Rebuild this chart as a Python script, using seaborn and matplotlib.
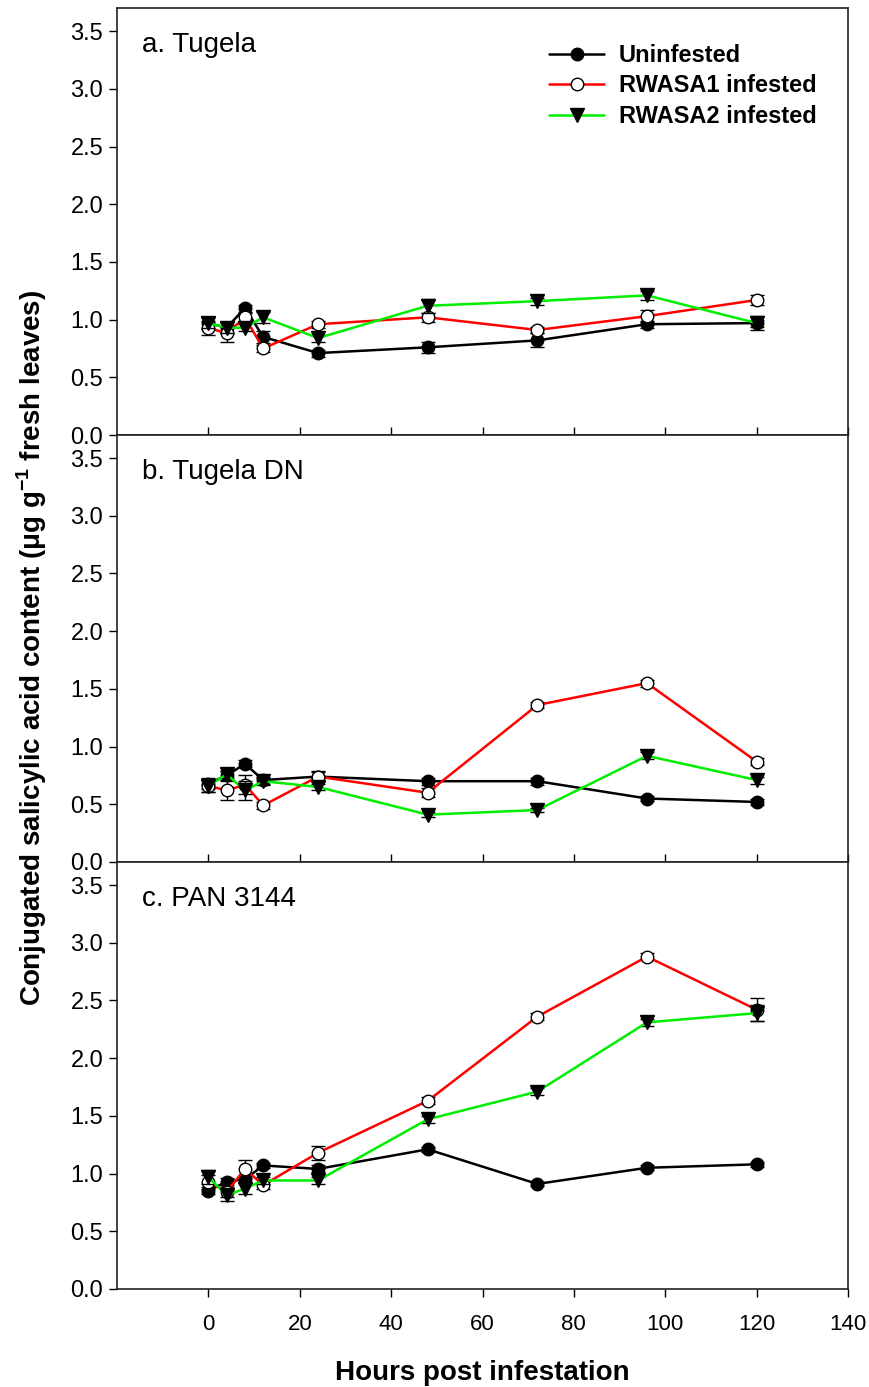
import numpy as np
import pandas as pd
import matplotlib
matplotlib.use("Agg")
import matplotlib.pyplot as plt
import seaborn as sns

# Hours post infestation
hours = [0, 4, 8, 12, 24, 48, 72, 96, 120]
series_names = ["Uninfested", "RWASA1 infested", "RWASA2 infested"]
panel_titles = ["a. Tugela", "b. Tugela DN", "c. PAN 3144"]

# a. Tugela
a_unin = [0.97, 0.93, 1.10, 0.85, 0.71, 0.76, 0.82, 0.96, 0.97]
a_rw1 = [0.93, 0.88, 1.02, 0.75, 0.96, 1.02, 0.91, 1.03, 1.17]
a_rw2 = [0.97, 0.93, 0.93, 1.02, 0.84, 1.12, 1.16, 1.21, 0.97]
a_unin_se = [0.05, 0.05, 0.03, 0.05, 0.03, 0.05, 0.06, 0.03, 0.06]
a_rw1_se = [0.06, 0.07, 0.04, 0.03, 0.03, 0.04, 0.03, 0.05, 0.04]
a_rw2_se = [0.04, 0.05, 0.03, 0.05, 0.03, 0.06, 0.03, 0.04, 0.03]

# b. Tugela DN
b_unin = [0.68, 0.75, 0.85, 0.71, 0.74, 0.70, 0.70, 0.55, 0.52]
b_rw1 = [0.66, 0.62, 0.67, 0.49, 0.74, 0.60, 1.36, 1.55, 0.87]
b_rw2 = [0.66, 0.76, 0.62, 0.70, 0.65, 0.41, 0.45, 0.92, 0.71]
b_unin_se = [0.05, 0.04, 0.03, 0.03, 0.05, 0.03, 0.03, 0.02, 0.03]
b_rw1_se = [0.05, 0.08, 0.08, 0.03, 0.04, 0.04, 0.03, 0.03, 0.03]
b_rw2_se = [0.05, 0.03, 0.08, 0.03, 0.03, 0.02, 0.02, 0.03, 0.03]

# c. PAN 3144
c_unin = [0.85, 0.93, 0.95, 1.07, 1.04, 1.21, 0.91, 1.05, 1.08]
c_rw1 = [0.93, 0.84, 1.04, 0.90, 1.18, 1.63, 2.36, 2.88, 2.42]
c_rw2 = [0.97, 0.81, 0.87, 0.94, 0.94, 1.47, 1.71, 2.31, 2.39]
c_unin_se = [0.03, 0.03, 0.03, 0.02, 0.03, 0.02, 0.02, 0.02, 0.02]
c_rw1_se = [0.06, 0.04, 0.08, 0.03, 0.06, 0.03, 0.03, 0.03, 0.10]
c_rw2_se = [0.06, 0.05, 0.05, 0.03, 0.03, 0.03, 0.03, 0.03, 0.07]

panels = [
    (a_unin, a_rw1, a_rw2, a_unin_se, a_rw1_se, a_rw2_se),
    (b_unin, b_rw1, b_rw2, b_unin_se, b_rw1_se, b_rw2_se),
    (c_unin, c_rw1, c_rw2, c_unin_se, c_rw1_se, c_rw2_se),
]

sns.set_style("white")
plt.rcParams["font.family"] = ["Liberation Sans", "DejaVu Sans"]
plt.rcParams["mathtext.fontset"] = "custom"
plt.rcParams["mathtext.rm"] = "Liberation Sans"
plt.rcParams["mathtext.bf"] = "Liberation Sans:bold"
plt.rcParams["text.color"] = "black"
plt.rcParams["xtick.color"] = "black"
plt.rcParams["ytick.color"] = "black"
plt.rcParams["axes.labelcolor"] = "black"

colors = {"Uninfested": "black", "RWASA1 infested": "#ff0000", "RWASA2 infested": "#00ee00"}
markers = {"Uninfested": "o", "RWASA1 infested": "o", "RWASA2 infested": "v"}
mfc = {"Uninfested": "black", "RWASA1 infested": "white", "RWASA2 infested": "black"}

fig, axes = plt.subplots(3, 1, figsize=(8.7, 13.87), dpi=100, sharex=True)
fig.subplots_adjust(left=0.1345, right=0.9747, top=0.9942, bottom=0.0707, hspace=0)

for i, ax in enumerate(axes):
    vals = panels[i][:3]
    ses = panels[i][3:]
    df = pd.DataFrame({
        "hours": hours * 3,
        "value": vals[0] + vals[1] + vals[2],
        "group": [series_names[0]] * 9 + [series_names[1]] * 9 + [series_names[2]] * 9,
    })
    for j, name in enumerate(series_names):
        sub = df[df["group"] == name]
        ax.errorbar(sub["hours"], sub["value"], yerr=ses[j], fmt="none",
                    ecolor="black", elinewidth=1.0, capsize=5, capthick=1.0, zorder=2 + j)
        sns.lineplot(data=sub, x="hours", y="value", ax=ax, color=colors[name],
                     marker=markers[name], markersize=9 if name != "RWASA2 infested" else 10,
                     markerfacecolor=mfc[name], markeredgecolor="black", markeredgewidth=1.0,
                     linewidth=1.8, label=name, zorder=3 + j)
    ax.set_xlim(-20, 140)
    ax.set_ylim(0, 3.7)
    ax.set_yticks(np.arange(0, 3.51, 0.5))
    ax.set_yticklabels([f"{v:.1f}" for v in np.arange(0, 3.51, 0.5)], fontsize=17)
    ax.set_xlabel("")
    ax.set_ylabel("")
    for s in ax.spines.values():
        s.set_color("#222222")
        s.set_linewidth(1.2)
    ax.text(0.034, 0.913, panel_titles[i], transform=ax.transAxes, fontsize=20,
            ha="left", va="center")
    ax.tick_params(axis="y", direction="out", length=6, width=1.0, left=True, pad=4)
    if i < 2:
        ax.set_xticks([0, 20, 40, 60, 80, 100, 120])
        ax.tick_params(axis="x", direction="in", length=6, width=1.0, bottom=True, labelbottom=False)
    else:
        ax.set_xticks([0, 20, 40, 60, 80, 100, 120, 140])
        ax.set_xticklabels([str(v) for v in [0, 20, 40, 60, 80, 100, 120, 140]], fontsize=16)
        ax.tick_params(axis="x", direction="out", length=6, width=1.0, bottom=True, pad=12)
    if i == 0:
        leg = ax.legend(loc="upper right", bbox_to_anchor=(0.98, 0.955), frameon=False,
                        prop={"weight": "bold", "size": 17}, handlelength=2.3,
                        labelspacing=0.32, borderaxespad=0.3, handletextpad=0.65)
    else:
        ax.get_legend().remove()

axes[2].set_xlabel("Hours post infestation", fontsize=20, fontweight="bold", labelpad=18)
fig.text(0.036, 0.533, r"Conjugated salicylic acid content ($\mathbf{\mu}$g g$^{\mathbf{-1}}$ fresh leaves)",
         rotation=90, ha="center", va="center", fontsize=20, fontweight="bold")

fig.savefig("out.png", dpi=100)
